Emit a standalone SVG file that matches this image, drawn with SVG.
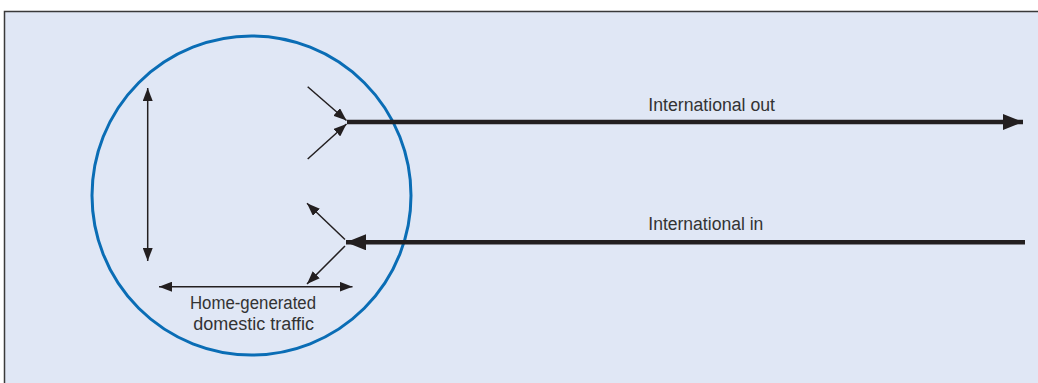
<svg xmlns="http://www.w3.org/2000/svg" width="1038" height="383" viewBox="0 0 1038 383">
<defs>
<style>
.thin{stroke:#231f20;stroke-width:1.5;fill:none}
.thick{stroke:#231f20;stroke-width:4.5;fill:none}
.lbl{font-family:"Liberation Sans",Arial,sans-serif;font-size:18px;fill:#333333}
</style>
<marker id="ah" markerUnits="userSpaceOnUse" markerWidth="14" markerHeight="10" refX="13" refY="5" orient="auto-start-reverse">
<path d="M0,0 L13,5 L0,10 z" fill="#231f20"/>
</marker>
<marker id="ahb" markerUnits="userSpaceOnUse" markerWidth="21" markerHeight="16" refX="20" refY="8" orient="auto-start-reverse">
<path d="M0,0 L20,8 L0,16 z" fill="#231f20"/>
</marker>
</defs>
<rect x="4.5" y="11.5" width="1040" height="380" fill="#e0e7f5" stroke="#3a3a3a" stroke-width="1.5"/>
<g id="circle">
<circle cx="251.5" cy="195.5" r="159.5" fill="none" stroke="#0a6db5" stroke-width="3"/>
</g>
<g id="connectors">
<line class="thin" x1="147.7" y1="88" x2="147.7" y2="261" marker-start="url(#ah)" marker-end="url(#ah)"/>
<line class="thin" x1="159" y1="286.7" x2="352.5" y2="286.7" marker-start="url(#ah)" marker-end="url(#ah)"/>
<line class="thin" x1="307.7" y1="86.7" x2="346.5" y2="120.5" marker-end="url(#ah)"/>
<line class="thin" x1="307.7" y1="159" x2="346.5" y2="124" marker-end="url(#ah)"/>
<line class="thin" x1="345" y1="239.5" x2="307" y2="203.3" marker-end="url(#ah)"/>
<line class="thin" x1="345" y1="246" x2="307" y2="284" marker-end="url(#ah)"/>
<line class="thick" x1="347" y1="122" x2="1023" y2="122" marker-end="url(#ahb)"/>
<line class="thick" x1="1025" y1="242.3" x2="346" y2="242.3" marker-end="url(#ahb)"/>
</g>
<g id="label-out">
<text class="lbl" x="648.3" y="110.7" textLength="126.7" lengthAdjust="spacingAndGlyphs">International out</text>
</g>
<g id="label-in">
<text class="lbl" x="648.3" y="230" textLength="115" lengthAdjust="spacingAndGlyphs">International in</text>
</g>
<g id="label-home">
<text class="lbl" x="190" y="309" textLength="126" lengthAdjust="spacingAndGlyphs">Home-generated</text>
<text class="lbl" x="193.3" y="330" textLength="120.7" lengthAdjust="spacingAndGlyphs">domestic traffic</text>
</g>
</svg>
